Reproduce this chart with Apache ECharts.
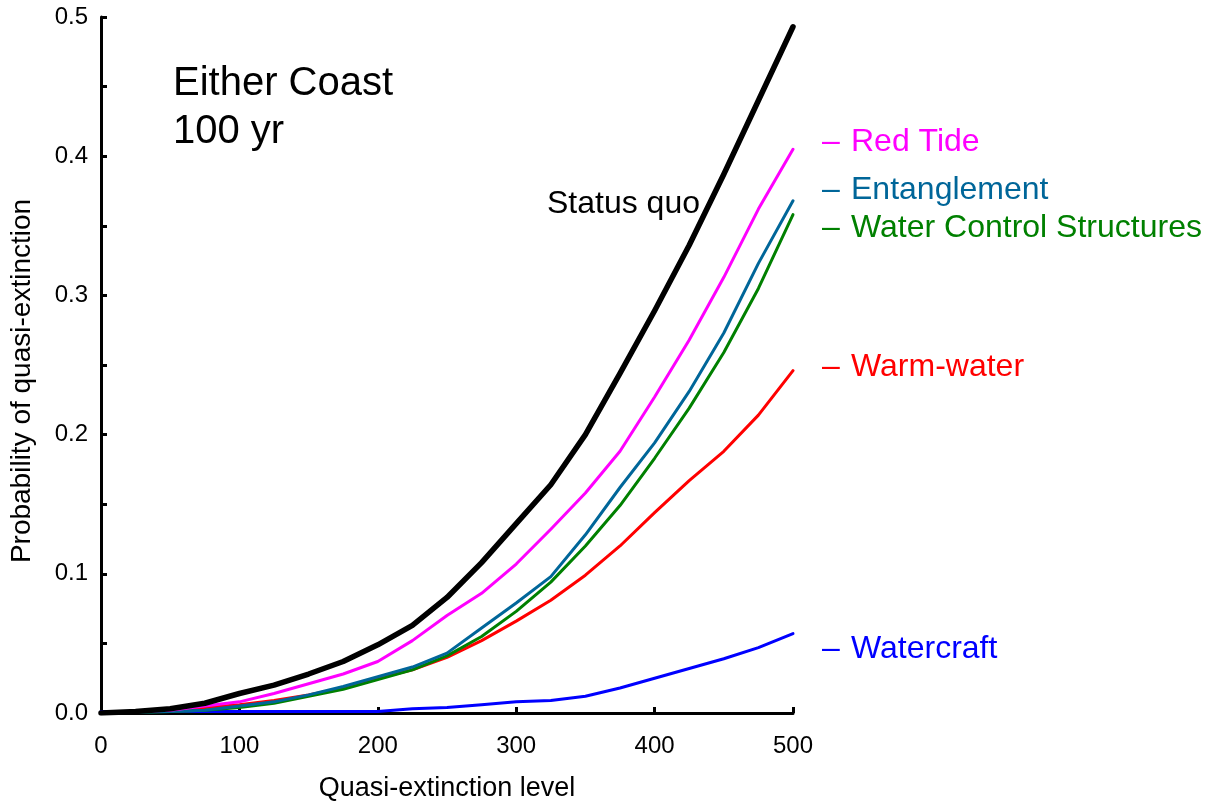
<!DOCTYPE html>
<html>
<head>
<meta charset="utf-8">
<script src="https://cdn.jsdelivr.net/npm/echarts@6/dist/echarts.min.js"></script>
<style>html,body{margin:0;padding:0;background:#fff}#c{width:1212px;height:801px}</style>
</head>
<body>
<div id="c"></div>
<script>
const xLevels = [0, 25, 50, 75, 100, 125, 150, 175, 200, 225, 250, 275, 300, 325, 350, 375, 400, 425, 450, 475, 500];
const statusQuo = [0.000, 0.001, 0.003, 0.007, 0.014, 0.020, 0.028, 0.037, 0.049, 0.063, 0.083, 0.108, 0.136, 0.164, 0.200, 0.244, 0.289, 0.336, 0.387, 0.440, 0.493];
const redTide = [0.000, 0.001, 0.002, 0.005, 0.008, 0.014, 0.021, 0.028, 0.037, 0.052, 0.070, 0.086, 0.107, 0.132, 0.158, 0.188, 0.227, 0.268, 0.313, 0.362, 0.405];
const entanglement = [0.000, 0.0005, 0.001, 0.002, 0.005, 0.008, 0.013, 0.019, 0.026, 0.033, 0.043, 0.061, 0.079, 0.098, 0.128, 0.162, 0.194, 0.231, 0.273, 0.323, 0.368];
const waterControl = [0.000, 0.0005, 0.001, 0.002, 0.004, 0.007, 0.012, 0.017, 0.024, 0.031, 0.041, 0.055, 0.073, 0.094, 0.120, 0.149, 0.183, 0.219, 0.259, 0.305, 0.358];
const warmWater = [0.000, 0.0005, 0.002, 0.004, 0.006, 0.009, 0.013, 0.018, 0.025, 0.031, 0.040, 0.052, 0.066, 0.081, 0.099, 0.120, 0.144, 0.167, 0.188, 0.214, 0.246];
const watercraft = [0.001, 0.001, 0.001, 0.001, 0.001, 0.001, 0.001, 0.001, 0.001, 0.003, 0.004, 0.006, 0.008, 0.009, 0.012, 0.018, 0.025, 0.032, 0.039, 0.047, 0.057];
const xTicks = [0, 100, 200, 300, 400, 500];
const yTickLabels = ['0.0', '0.1', '0.2', '0.3', '0.4', '0.5'];

const FONT = '"Liberation Sans", Arial, sans-serif';
function pairs(arr) { return xLevels.map((x, i) => [x, arr[i]]); }
function line(name, arr, color, width, z) {
  return { name, type: 'line', data: pairs(arr), showSymbol: false, symbol: 'none', z: z || 2,
    smooth: false,
    lineStyle: { color, width, join: 'round', cap: 'round' }, itemStyle: { color }, animation: false };
}
function note(x, y, label, color, size) {
  return [
    { type: 'text', left: x, top: y, style: { text: '–', font: size + 'px ' + FONT, fill: color } },
    { type: 'text', left: x + 29, top: y, style: { text: label, font: size + 'px ' + FONT, fill: color } }
  ];
}

const chart = echarts.init(document.getElementById('c'), null, { renderer: 'canvas' });
chart.setOption({
  backgroundColor: '#fff',
  animation: false,
  grid: { left: 101, right: 419, top: 17, bottom: 88, containLabel: false, outerBoundsMode: 'none' },
  xAxis: {
    type: 'value', min: 0, max: 500, interval: 100,
    name: 'Quasi-extinction level', nameLocation: 'middle', nameGap: 62,
    nameTextStyle: { fontFamily: FONT, fontSize: 27, color: '#000' },
    axisLine: { lineStyle: { color: '#000', width: 3 } },
    axisTick: { inside: true, length: 6, lineStyle: { color: '#000', width: 3 } },
    axisLabel: { fontFamily: FONT, fontSize: 24, color: '#000', margin: 21,
      formatter: v => xTicks.includes(v) ? String(v) : '' },
    splitLine: { show: false }
  },
  yAxis: {
    type: 'value', min: 0, max: 0.5, interval: 0.05,
    axisLine: { onZero: false, lineStyle: { color: '#000', width: 3 } },
    axisTick: { inside: true, length: 6, lineStyle: { color: '#000', width: 3 } },
    axisLabel: { fontFamily: FONT, fontSize: 24, color: '#000', margin: 13,
      formatter: v => { const k = Math.round(v * 100); return k % 10 === 0 ? yTickLabels[k / 10] : ''; } },
    splitLine: { show: false }
  },
  series: [
    line('Watercraft', watercraft, '#0000FF', 3),
    line('Warm-water', warmWater, '#FF0000', 3),
    line('Water Control Structures', waterControl, '#008000', 3),
    line('Entanglement', entanglement, '#006699', 3),
    line('Red Tide', redTide, '#FF00FF', 3),
    line('Status quo', statusQuo, '#000000', 5.5, 5)
  ],
  graphic: [
    { type: 'text', x: 22, y: 381, rotation: Math.PI / 2,
      style: { text: 'Probability of quasi-extinction', font: '28px ' + FONT, fill: '#000', align: 'center', verticalAlign: 'middle' } },
    { type: 'text', left: 173, top: 64, style: { text: 'Either Coast', font: '40px ' + FONT, fill: '#000' } },
    { type: 'text', left: 173, top: 112, style: { text: '100 yr', font: '40px ' + FONT, fill: '#000' } },
    { type: 'text', left: 547, top: 188, style: { text: 'Status quo', font: '32px ' + FONT, fill: '#000' } }
  ].concat(
    note(822, 126, 'Red Tide', '#FF00FF', 32),
    note(822, 174, 'Entanglement', '#006699', 32),
    note(822, 212, 'Water Control Structures', '#008000', 32),
    note(822, 351, 'Warm-water', '#FF0000', 32),
    note(822, 633, 'Watercraft', '#0000FF', 32)
  )
});
</script>
</body>
</html>
